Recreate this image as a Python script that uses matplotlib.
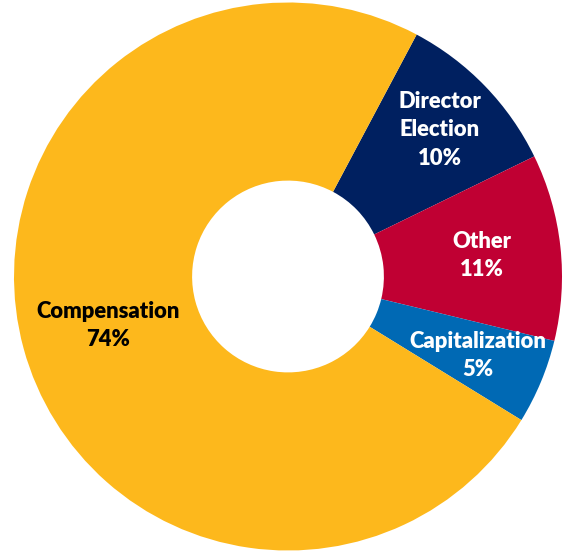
import numpy as np
import matplotlib
import matplotlib.pyplot as plt

matplotlib.rcParams["font.family"] = ["Lato", "DejaVu Sans"]

# Share of proposals by category
categories = ["Director\nElection", "Other", "Capitalization", "Compensation"]
shares = [10, 11, 5, 74]
colors = ["#002060", "#C00033", "#0069B4", "#FDB81C"]
text_colors = ["white", "white", "white", "black"]

fig = plt.figure(figsize=(5.65, 5.53), dpi=100)
ax = fig.add_axes([0, 0, 1, 1])

# donut centre sits at (288, 276) px, outer radius 274 px
r_px = 274.0
cx, cy = 288.0, 276.5

wedges, _ = ax.pie(shares, colors=colors, startangle=62, counterclock=False,
                   radius=1.0, wedgeprops=dict(width=0.65, linewidth=0))
ax.set_xlim(-cx / r_px, (565 - cx) / r_px)
ax.set_ylim(-(553 - cy) / r_px, cy / r_px)
ax.axis("off")

label_r = [0.77, 0.71, 0.75, 0.68]
for w, name, val, tc, lr in zip(wedges, categories, shares, text_colors, label_r):
    mid = np.deg2rad((w.theta1 + w.theta2) / 2)
    x, y = lr * np.cos(mid), lr * np.sin(mid)
    ax.text(x, y, f"{name}\n{val}%", ha="center", va="center", color=tc,
            fontsize=15.8, fontweight="heavy", linespacing=1.42)

fig.savefig("out.png", dpi=100)
